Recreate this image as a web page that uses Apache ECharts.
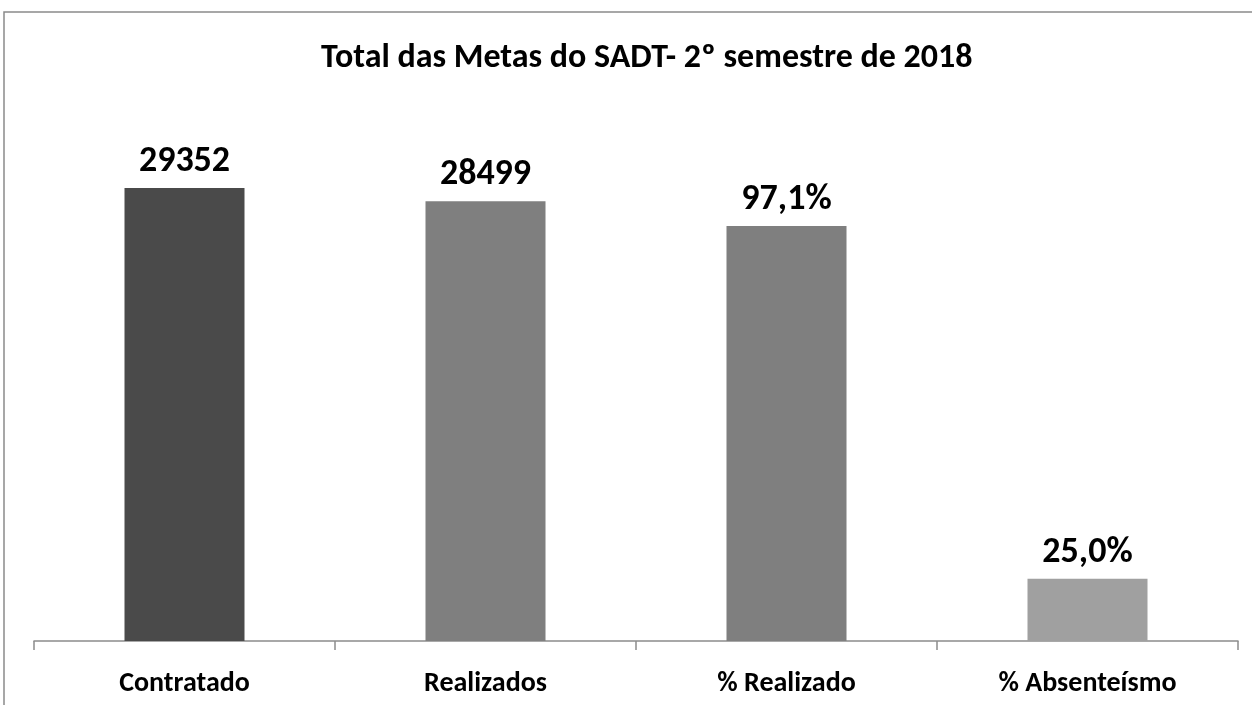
<!DOCTYPE html>
<html>
<head>
<meta charset="utf-8">
<script src="https://cdn.jsdelivr.net/npm/echarts@6/dist/echarts.min.js"></script>
<style>
  html, body { margin: 0; padding: 0; background: #fff; }
  #chart { width: 1252px; height: 705px; }
</style>
</head>
<body>
<div id="chart"></div>
<script>
// Categories and values
const categories = ['Contratado', 'Realizados', '% Realizado', '% Absenteísmo'];
const counts = [29352, 28499, '-', '-'];        // absolute totals
const percents = ['-', '-', 97.1, 25.0];        // percentages
const barColors = ['#4a4a4a', '#7f7f7f', '#7f7f7f', '#a0a0a0'];

const FONT = 'Carlito, "Liberation Sans Narrow", "Open Sans", sans-serif';

const chart = echarts.init(document.getElementById('chart'));

function colored(arr) {
  return arr.map((v, i) => (v === '-' ? '-' : { value: v, itemStyle: { color: barColors[i] } }));
}

chart.setOption({
  animation: false,
  backgroundColor: '#fff',
  title: {
    text: 'Total das Metas do SADT- 2º semestre de 2018',
    left: 316,
    top: 36,
    textStyle: { fontFamily: FONT, fontWeight: 'bold', fontSize: 34, color: '#000' }
  },
  graphic: [{
    type: 'rect',
    shape: { x: 4, y: 12, width: 1400, height: 900 },
    style: { fill: 'none', stroke: '#8a8a8a', lineWidth: 1.5 },
    silent: true
  }],
  grid: { left: 34, right: 14, top: 178, bottom: 64 },
  xAxis: {
    type: 'category',
    data: categories,
    axisLine: { lineStyle: { color: '#8c8c8c', width: 1.5 } },
    axisTick: { show: true, length: 9, lineStyle: { color: '#8c8c8c', width: 1.5 } },
    axisLabel: { fontFamily: FONT, fontWeight: 'bold', fontSize: 28, color: '#000', margin: 29 }
  },
  yAxis: [
    { type: 'value', min: 0, max: 30000, show: false, splitLine: { show: false } },
    { type: 'value', min: 12.3, max: 106.9, show: false, splitLine: { show: false } }
  ],
  series: [
    {
      type: 'bar',
      yAxisIndex: 0,
      data: colored(counts),
      barWidth: 120,
      barGap: '-100%',
      label: {
        show: true, position: 'top', distance: 8,
        fontFamily: FONT, fontWeight: 'bold', fontSize: 36, color: '#000'
      }
    },
    {
      type: 'bar',
      yAxisIndex: 1,
      data: colored(percents),
      barWidth: 120,
      barGap: '-100%',
      label: {
        show: true, position: 'top', distance: 8,
        fontFamily: FONT, fontWeight: 'bold', fontSize: 36, color: '#000',
        formatter: p => p.value.toFixed(1).replace('.', ',') + '%'
      }
    }
  ]
});
</script>
</body>
</html>
